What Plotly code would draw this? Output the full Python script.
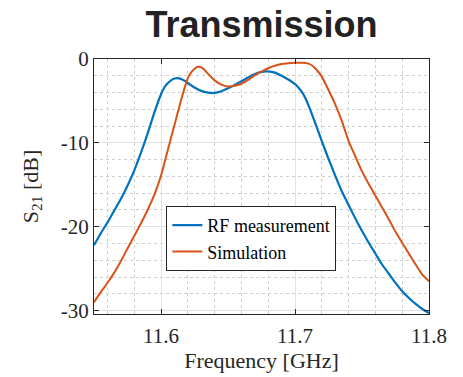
import plotly.graph_objects as go

# Frequency [GHz] / S21 [dB]
freq_meas = [11.550, 11.555, 11.560, 11.565, 11.570, 11.575, 11.580, 11.585, 11.590, 11.595,
             11.600, 11.6025, 11.605, 11.6075, 11.610, 11.6125, 11.615, 11.6175, 11.620, 11.625,
             11.630, 11.635, 11.640, 11.645, 11.650, 11.655, 11.660, 11.665, 11.670, 11.675,
             11.680, 11.685, 11.690, 11.695, 11.700, 11.7025, 11.705, 11.7075, 11.710, 11.715,
             11.720, 11.725, 11.730, 11.735, 11.740, 11.745, 11.750, 11.755, 11.760, 11.765,
             11.770, 11.775, 11.780, 11.785, 11.790, 11.795, 11.800]
s21_meas = [-22.2, -20.8, -19.5, -18.1, -16.7, -15.1, -13.3, -11.2, -8.9, -6.4,
            -4.2, -3.4, -2.9, -2.55, -2.33, -2.28, -2.38, -2.58, -2.86, -3.4,
            -3.8, -4.0, -4.05, -3.85, -3.5, -3.1, -2.66, -2.2, -1.8, -1.54,
            -1.48, -1.62, -2.0, -2.45, -3.0, -3.4, -3.9, -4.6, -5.5, -7.6,
            -9.8, -11.9, -13.9, -15.8, -17.4, -19.0, -20.5, -21.9, -23.2, -24.5,
            -25.6, -26.7, -27.7, -28.5, -29.2, -29.8, -30.3]

freq_sim = [11.550, 11.555, 11.560, 11.565, 11.570, 11.575, 11.580, 11.585, 11.590, 11.595,
            11.600, 11.605, 11.610, 11.615, 11.6175, 11.620, 11.6225, 11.625, 11.6275, 11.630,
            11.6325, 11.635, 11.640, 11.645, 11.650, 11.655, 11.660, 11.665, 11.670, 11.675,
            11.680, 11.685, 11.690, 11.695, 11.700, 11.705, 11.710, 11.7125, 11.715, 11.7175,
            11.720, 11.725, 11.730, 11.735, 11.740, 11.745, 11.750, 11.755, 11.760, 11.765,
            11.770, 11.775, 11.780, 11.785, 11.790, 11.795, 11.800]
s21_sim = [-29.0, -27.8, -26.7, -25.5, -24.1, -22.6, -21.1, -19.6, -18.0, -16.2,
           -13.9, -10.9, -7.9, -4.9, -3.5, -2.3, -1.6, -1.15, -0.92, -0.98,
           -1.3, -1.75, -2.55, -3.05, -3.28, -3.2, -2.95, -2.5, -1.95, -1.5,
           -1.1, -0.8, -0.6, -0.5, -0.46, -0.45, -0.55, -0.75, -1.1, -1.55,
           -2.1, -3.7, -5.4, -7.4, -9.8, -11.6, -13.4, -14.9, -16.3, -17.7,
           -19.1, -20.6, -21.9, -23.2, -24.5, -25.7, -26.5]

x_tickvals = [11.6, 11.7, 11.8]
x_ticktext = ["11.6", "11.7", "11.8"]
y_tickvals = [0, -10, -20, -30]
y_ticktext = ["0", "-10", "-20", "-30"]

AX = "#262626"
SERIF = "Liberation Serif"

fig = go.Figure()
fig.add_trace(go.Scatter(x=freq_meas, y=s21_meas, mode="lines", name="RF measurement",
                         line=dict(color="#0072BD", width=2.2, shape="spline", smoothing=0.5)))
fig.add_trace(go.Scatter(x=freq_sim, y=s21_sim, mode="lines", name="Simulation",
                         line=dict(color="#D95319", width=2.0, shape="spline", smoothing=0.5)))

axis_common = dict(
    showline=True, linecolor=AX, linewidth=1, mirror="ticks",
    ticks="inside", ticklen=5, tickcolor=AX, tickwidth=1,
    showgrid=True, gridcolor="#e2e2e2", gridwidth=1, zeroline=False,
    tickfont=dict(family=SERIF, size=21, color=AX),
    automargin=False,
)

fig.update_layout(
    width=463, height=377,
    margin=dict(l=94, r=34, t=59, b=63),
    paper_bgcolor="white", plot_bgcolor="white",
    title=dict(text="<b>Transmission</b>", x=(94 + 429) / 2 / 463, xanchor="center",
               y=1 - 24 / 377, yanchor="middle", yref="container",
               font=dict(family="Liberation Sans", size=36, color="#222222")),
    xaxis=dict(range=[11.55, 11.8], tickvals=x_tickvals, ticktext=x_ticktext,
               ticklabelstandoff=3,
               title=dict(text="Frequency [GHz]", standoff=5,
                          font=dict(family=SERIF, size=22, color=AX)),
               minor=dict(dtick=0.02, tick0=11.5, showgrid=True, griddash="dot",
                          gridcolor="#cfcfcf", gridwidth=1, ticks=""),
               **axis_common),
    yaxis=dict(range=[-30.4, 0], tickvals=y_tickvals, ticktext=y_ticktext,
               title=dict(text="S<sub>21</sub> [dB]", standoff=16,
                          font=dict(family=SERIF, size=22, color=AX)),
               minor=dict(dtick=2, tick0=0, showgrid=True, griddash="dot",
                          gridcolor="#cfcfcf", gridwidth=1, ticks=""),
               **axis_common),
    legend=dict(x=0.216, y=0.424, xanchor="left", yanchor="top",
                bgcolor="white", bordercolor=AX, borderwidth=1,
                font=dict(family=SERIF, size=18, color="#000000"),
                tracegroupgap=0, itemwidth=30),
    showlegend=True,
)

fig.write_html("out.html")
